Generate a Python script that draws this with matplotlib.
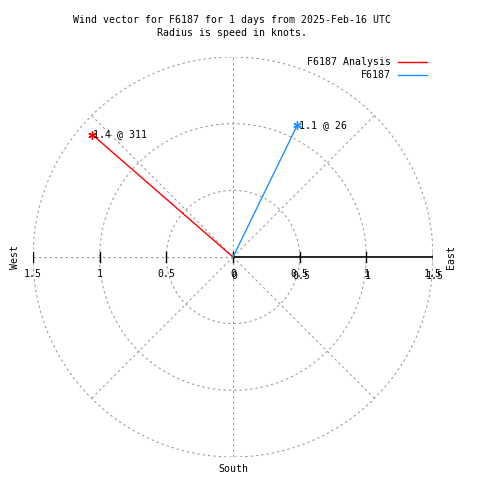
import numpy as np
import matplotlib
matplotlib.use("Agg")
import matplotlib.pyplot as plt

# ---- data ----
series_names = ["F6187 Analysis", "F6187"]
speeds = [1.4, 1.1]          # knots
directions = [311, 26]       # degrees, compass (0 = north, clockwise)
colors = ["#ff0000", "#1e90ff"]
ring_radii = [0.5, 1.0, 1.5]
tick_values = [-1.5, -1.0, -0.5, 0.0, 0.5, 1.0, 1.5]
tick_labels = ["1.5", "1", "0.5", "0", "0.5", "1", "1.5"]
right_tick_values = [0.0, 0.5, 1.0, 1.5]
right_tick_labels = ["0", "0.5", "1", "1.5"]
rmax = 1.5

title_lines = ["Wind vector for F6187 for 1 days from 2025-Feb-16 UTC",
               "Radius is speed in knots."]

mono = "DejaVu Sans Mono"
fs = 7.1

fig = plt.figure(figsize=(4.8, 4.8), dpi=100)
ax = fig.add_axes([33/480, 23/480, 400/480, 400/480])
ax.set_xlim(-rmax, rmax)
ax.set_ylim(-rmax, rmax)
ax.set_aspect("equal")
ax.axis("off")

grid_kw = dict(color="#a0a0a0", lw=0.8, ls=(0, (2.2, 2.6)), zorder=1)
th = np.linspace(0, 2*np.pi, 400)
for r in ring_radii:
    ax.plot(r*np.cos(th), r*np.sin(th), **grid_kw)
for a in range(0, 360, 45):
    if a == 0:
        continue  # east: solid axis drawn below
    ar = np.deg2rad(a)
    ax.plot([0, rmax*np.cos(ar)], [0, rmax*np.sin(ar)], **grid_kw)

# solid axis to the east
ax.plot([0, rmax], [0, 0], color="black", lw=1.2, zorder=2)
tick_h = 0.035
for v in tick_values:
    ax.plot([v, v], [-tick_h, tick_h], color="black", lw=1.0, zorder=2)
for v, lab in zip(tick_values, tick_labels):
    ax.text(v, -0.09, lab, ha="center", va="top", fontsize=fs, family=mono)
for v, lab in zip(right_tick_values, right_tick_labels):
    ax.text(v + 0.01, -0.105, lab, ha="center", va="top", fontsize=fs, family=mono)

# direction labels
ax.text(-rmax - 0.135, 0, "West", rotation=90, ha="center", va="center",
        fontsize=fs, family=mono, clip_on=False)
ax.text(rmax + 0.135, 0, "East", rotation=90, ha="center", va="center",
        fontsize=fs, family=mono, clip_on=False)
ax.text(0, -rmax - 0.05, "South", ha="center", va="top",
        fontsize=fs, family=mono, clip_on=False)

# vectors
for name, s, d, c in zip(series_names, speeds, directions, colors):
    dr = np.deg2rad(d)
    x, y = s*np.sin(dr), s*np.cos(dr)
    ax.plot([0, x], [0, y], color=c, lw=1.0, zorder=3)
    ax.plot([x], [y], marker=(6, 2, 0), ms=6, color=c, mew=1.0, zorder=4)
    ax.text(x + 0.01, y, f"{s:g} @ {d}", ha="left", va="center",
            fontsize=fs, family=mono, zorder=5)

# legend (gnuplot style)
for i, (name, c) in enumerate(zip(series_names, colors)):
    ypx = 62 + 13*i
    fig.text(391/480, 1 - ypx/480, name, ha="right", va="center",
             fontsize=fs, family=mono)
    fig.add_artist(plt.Line2D([398/480, 427/480], [1 - ypx/480]*2,
                              color=c, lw=1.0))

# title
fig.text(232/480, 1 - 20/480, title_lines[0], ha="center", va="center",
         fontsize=fs, family=mono)
fig.text(232/480, 1 - 33/480, title_lines[1], ha="center", va="center",
         fontsize=fs, family=mono)

fig.savefig("out.png", dpi=100, facecolor="white")
